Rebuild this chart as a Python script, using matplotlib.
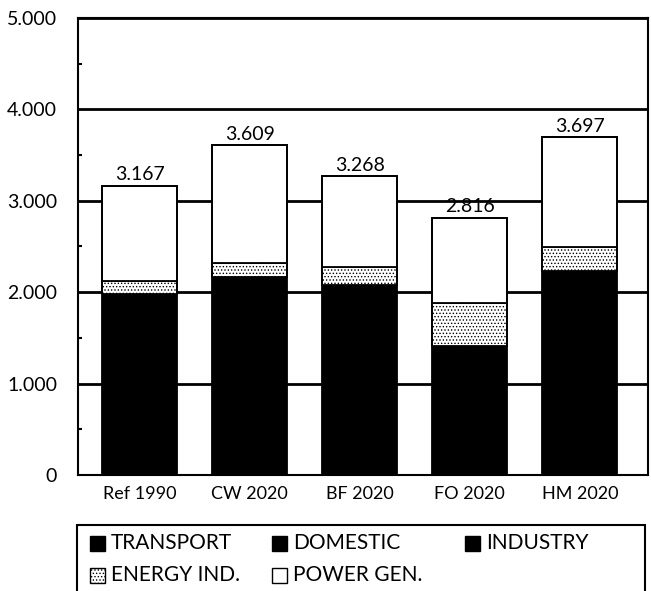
import numpy as np
import matplotlib
matplotlib.use("Agg")
import matplotlib.pyplot as plt
from matplotlib.patches import Rectangle

plt.rcParams['font.family'] = ['Lato', 'DejaVu Sans']
plt.rcParams['hatch.linewidth'] = 0.6

# scenarios and CO2 emissions per sector (kt)
scenarios = ['Ref 1990', 'CW 2020', 'BF 2020', 'FO 2020', 'HM 2020']
totals = [3167, 3609, 3268, 2816, 3697]
transport = [1430, 1620, 1510, 1410, 1500]
domestic = [460, 270, 380, 0, 400]
industry = [90, 280, 190, 0, 330]
energy_ind = [140, 150, 200, 470, 260]
# power generation makes up the rest of each total
power_gen = [t - a - b - c - d for t, a, b, c, d in
             zip(totals, transport, domestic, industry, energy_ind)]

W, H = 651, 591
fig = plt.figure(figsize=(W / 100, H / 100), dpi=100)
ax = fig.add_axes([78/W, 1 - 475/H, (648 - 78)/W, (475 - 18)/H])

x = np.arange(len(scenarios))
w = 0.68
bottom = np.zeros(len(scenarios))

for vals in [transport, domestic, industry]:
    ax.bar(x, vals, w, bottom=bottom, color='black', edgecolor='black',
           linewidth=0, zorder=3)
    bottom += np.array(vals)

ax.bar(x, energy_ind, w, bottom=bottom, color='white', edgecolor='black',
       hatch='.....', linewidth=1.3, zorder=3)
bottom += np.array(energy_ind)
ax.bar(x, power_gen, w, bottom=bottom, color='white', edgecolor='black',
       linewidth=1.3, zorder=3)
bottom += np.array(power_gen)

# outline round each full bar
ax.bar(x, totals, w, fill=False, edgecolor='black', linewidth=1.3, zorder=4)

for xi, t in zip(x, totals):
    ax.annotate(f'{t/1000:.3f}', (xi, t), xytext=(0, 4),
                textcoords='offset points', ha='center', va='baseline',
                fontsize=14, zorder=5)

ax.set_xlim(-0.56, 4.62)
ax.set_ylim(0, 5000)
ax.set_yticks(range(0, 5001, 1000))
ax.set_yticklabels(['0', '1.000', '2.000', '3.000', '4.000', '5.000'],
                   fontsize=14)
ax.set_yticks(range(500, 5000, 1000), minor=True)
ax.tick_params(axis='y', which='major', length=0, pad=15)
ax.tick_params(axis='y', which='minor', length=3, width=1.5, direction='in')
ax.set_xticks(x)
ax.set_xticklabels(scenarios, fontsize=13)
ax.tick_params(axis='x', length=0, pad=8)
ax.grid(axis='y', color='black', linewidth=2, zorder=1)
for s in ax.spines.values():
    s.set_linewidth(1.5)

# legend box runs off the lower edge
fig.add_artist(Rectangle((77/W, -0.05), (645 - 77)/W, 0.05 + 1 - 525/H,
                         transform=fig.transFigure, fill=False,
                         edgecolor='black', linewidth=1.5))
legend_items = [
    ('TRANSPORT', 'black', None, 90, 543),
    ('DOMESTIC', 'black', None, 272, 543),
    ('INDUSTRY', 'black', None, 465, 543),
    ('ENERGY IND.', 'white', '.....', 90, 575),
    ('POWER GEN.', 'white', None, 272, 575),
]
box = 15
for label, fc, hatch, px, py in legend_items:
    fig.add_artist(Rectangle((px/W, 1 - (py + box/2)/H), box/W, box/H,
                             transform=fig.transFigure, facecolor=fc,
                             edgecolor='black', hatch=hatch, linewidth=1))
    fig.text((px + box + 6)/W, 1 - py/H, label, fontsize=15,
             ha='left', va='center')

fig.savefig('out.png', dpi=100)
